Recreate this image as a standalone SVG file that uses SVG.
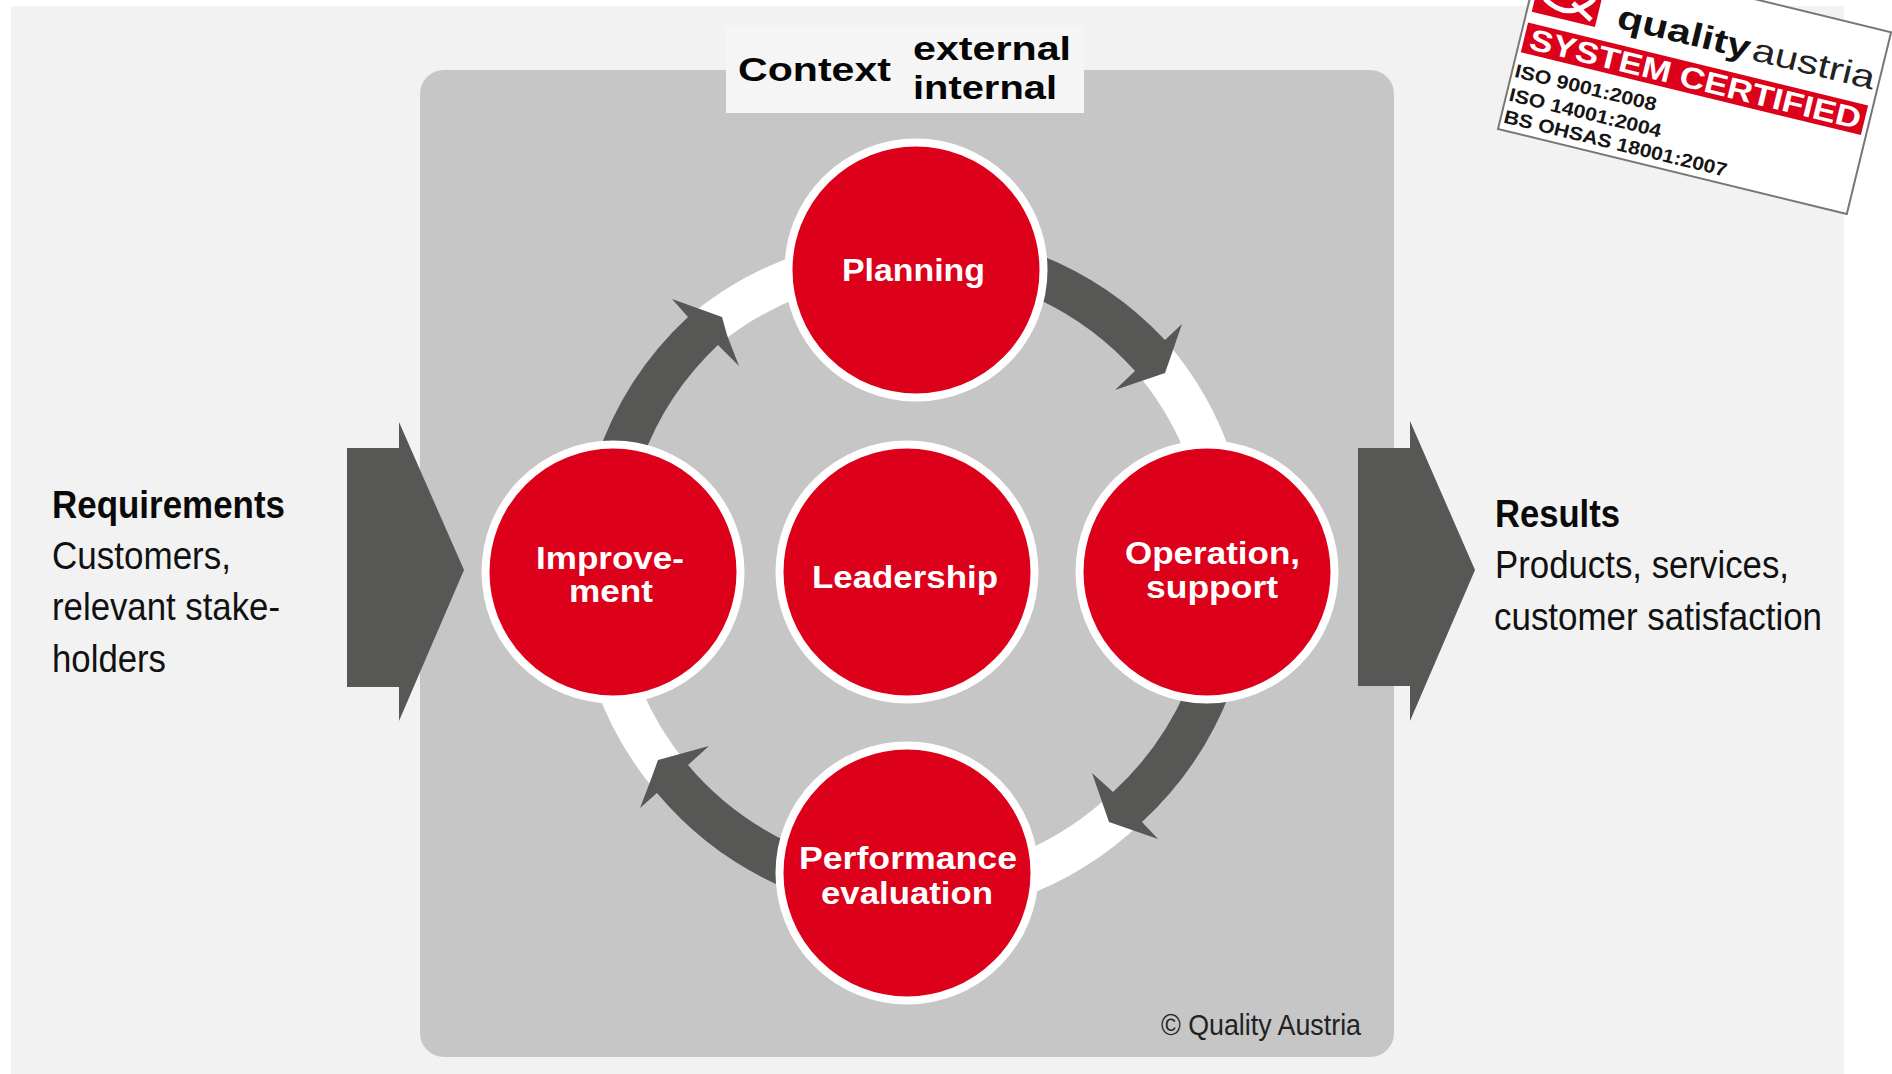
<svg xmlns="http://www.w3.org/2000/svg" width="1892" height="1074" viewBox="0 0 1892 1074">
<style>
text{font-family:"Liberation Sans",Arial,sans-serif}
.side{font-size:39px;fill:#111}
.sideb{font-size:39px;font-weight:700;fill:#0a0a0a}
.node{font-size:31px;font-weight:700;fill:#fff}
.ctx{font-size:33px;font-weight:700;fill:#050505}
.disc{fill:#dd001a;stroke:#fff;stroke-width:8}
.dark{fill:#575755}
.ring{fill:#fff}
.iso{font-size:19px;font-weight:700;fill:#151515}
</style>
<rect width="1892" height="1074" fill="#fff"/>
<rect x="11" y="6" width="1833" height="1068" fill="#f2f2f2"/>
<rect id="panel" x="420" y="70" width="974" height="987" rx="24" fill="#c6c6c6"/>
<g id="context">
<rect x="726" y="26" width="358" height="87" fill="#f5f5f5"/>
<text class="ctx" x="738" y="81" textLength="153" lengthAdjust="spacingAndGlyphs">Context</text>
<text class="ctx" x="913" y="60" textLength="158" lengthAdjust="spacingAndGlyphs">external</text>
<text class="ctx" x="913" y="99" textLength="144" lengthAdjust="spacingAndGlyphs">internal</text>
</g>
<g id="connectors">
<path class="ring" d="M1165,340A345,345 0 0 1 1233,460L1184,450A303,303 0 0 0 1135,371Z"/>
<path class="ring" d="M688,317A342,342 0 0 1 800,254L800,297A299,299 0 0 0 718,345Z"/>
<path class="ring" d="M1142,822A345,345 0 0 1 1020,898L1020,853A303,303 0 0 0 1113,792Z"/>
<path class="ring" d="M657,793A342,342 0 0 1 596,688L641,688A299,299 0 0 0 688,765Z"/>
<path class="dark" d="M1040,255A345,345 0 0 1 1165,340L1182,324L1172,353L1165,373L1115,390L1135,371A303,303 0 0 0 1040,300Z"/>
<path class="dark" d="M596,460A342,342 0 0 1 688,317L672,299L722,317L727,335L739,366L718,345A299,299 0 0 0 642,460Z"/>
<path class="dark" d="M1231,690A345,345 0 0 1 1142,822L1158,839L1109,822L1092,773L1113,792A303,303 0 0 0 1186,690Z"/>
<path class="dark" d="M790,890A342,342 0 0 1 657,793L640,808L650,782L658,760L709,746L688,765A299,299 0 0 0 790,843Z"/>
</g>
<g id="planning">
<circle class="disc" cx="916" cy="270" r="127.500"/>
<text class="node" x="842" y="281" textLength="143" lengthAdjust="spacingAndGlyphs">Planning</text>
</g>
<g id="improvement">
<circle class="disc" cx="613" cy="572" r="127.500"/>
<text class="node" x="536" y="569" textLength="148" lengthAdjust="spacingAndGlyphs">Improve-</text>
<text class="node" x="569" y="602" textLength="84" lengthAdjust="spacingAndGlyphs">ment</text>
</g>
<g id="leadership">
<circle class="disc" cx="907" cy="572" r="127.500"/>
<text class="node" x="812" y="588" textLength="186" lengthAdjust="spacingAndGlyphs">Leadership</text>
</g>
<g id="operation">
<circle class="disc" cx="1207" cy="572" r="127.500"/>
<text class="node" x="1125" y="564" textLength="175" lengthAdjust="spacingAndGlyphs">Operation,</text>
<text class="node" x="1146" y="598" textLength="132" lengthAdjust="spacingAndGlyphs">support</text>
</g>
<g id="performance">
<circle class="disc" cx="907" cy="873" r="127.500"/>
<text class="node" x="799" y="869" textLength="218" lengthAdjust="spacingAndGlyphs">Performance</text>
<text class="node" x="821" y="904" textLength="172" lengthAdjust="spacingAndGlyphs">evaluation</text>
</g>
<g id="input-arrow"><path class="dark" d="M347,448H399V422L464,570L399,721V687H347Z"/></g>
<g id="output-arrow"><path class="dark" d="M1358,448H1410V421L1475,570L1410,721V686H1358Z"/></g>
<g id="requirements">
<text class="sideb" x="52" y="518" textLength="233" lengthAdjust="spacingAndGlyphs">Requirements</text>
<text class="side" x="52" y="569" textLength="179" lengthAdjust="spacingAndGlyphs">Customers,</text>
<text class="side" x="52" y="620" textLength="228" lengthAdjust="spacingAndGlyphs">relevant stake-</text>
<text class="side" x="52" y="672" textLength="114" lengthAdjust="spacingAndGlyphs">holders</text>
</g>
<g id="results">
<text class="sideb" x="1495" y="527" textLength="125" lengthAdjust="spacingAndGlyphs">Results</text>
<text class="side" x="1495" y="578" textLength="294" lengthAdjust="spacingAndGlyphs">Products, services,</text>
<text class="side" x="1494" y="630" textLength="328" lengthAdjust="spacingAndGlyphs">customer satisfaction</text>
</g>
<text id="copyright" x="1161" y="1035" font-size="30" fill="#222" textLength="200" lengthAdjust="spacingAndGlyphs">© Quality Austria</text>
<g id="stamp">
<g transform="translate(1498,129) rotate(13.7)">
<rect x="0" y="-187" width="359" height="187" fill="#fff" stroke="#777" stroke-width="2"/>
<rect x="5" y="-190" width="65" height="68" fill="#dd001a"/>
<rect x="4" y="-110.500" width="350" height="30.500" fill="#dd001a"/>
<text x="10" y="-85" font-size="30" font-weight="700" fill="#fff" textLength="340" lengthAdjust="spacingAndGlyphs">SYSTEM CERTIFIED</text>
<text x="90" y="-127" font-size="33" font-weight="700" fill="#111" textLength="136" lengthAdjust="spacingAndGlyphs">quality</text>
<text x="229" y="-127" font-size="33" fill="#222" textLength="125" lengthAdjust="spacingAndGlyphs">austria</text>
<text class="iso" x="3" y="-54.500" textLength="145" lengthAdjust="spacingAndGlyphs">ISO 9001:2008</text>
<text class="iso" x="3" y="-30" textLength="156" lengthAdjust="spacingAndGlyphs">ISO 14001:2004</text>
<text class="iso" x="3" y="-7.500" textLength="229" lengthAdjust="spacingAndGlyphs">BS OHSAS 18001:2007</text>
</g>
<path d="M1545,-1Q1560,14 1575,10Q1588,6 1594,-1M1573,3L1591,20" fill="none" stroke="#fff" stroke-width="5"/>
</g>
</svg>
